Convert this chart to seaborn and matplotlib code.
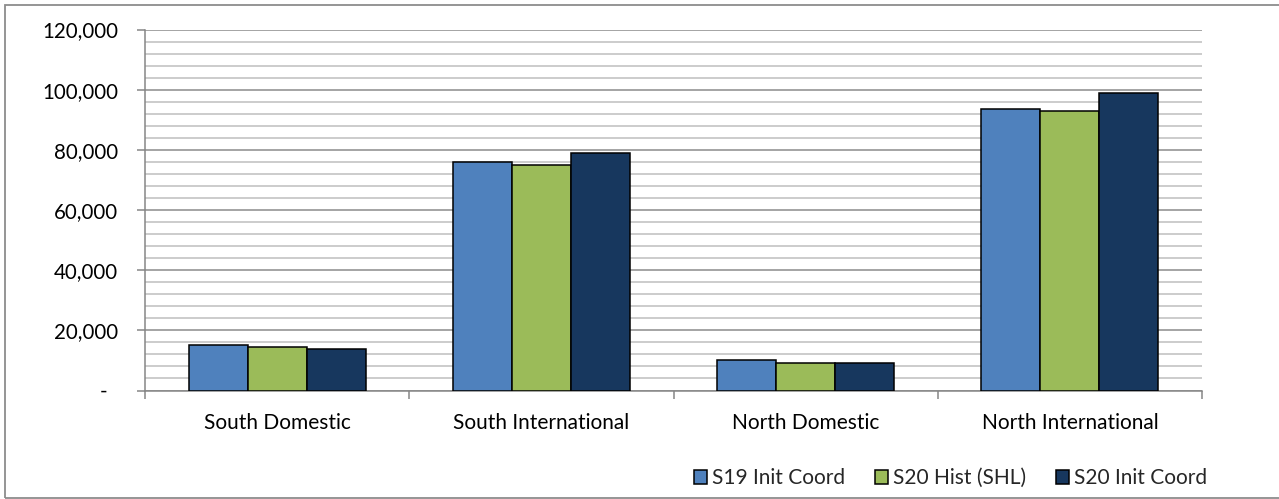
import matplotlib
matplotlib.use("Agg")
import matplotlib.pyplot as plt
import matplotlib.patches as mpatches
import seaborn as sns
import pandas as pd
from matplotlib.ticker import MultipleLocator, FuncFormatter, FixedLocator

categories = ["South Domestic", "South International", "North Domestic", "North International"]
series_names = ["S19 Init Coord", "S20 Hist (SHL)", "S20 Init Coord"]
s19_init = [15200, 75900, 10100, 93600]
s20_hist = [14300, 75100, 9200, 93000]
s20_init = [13700, 79000, 9000, 98800]
colors = ["#4F81BD", "#9BBB59", "#17375E"]

rows = []
for name, vals in zip(series_names, [s19_init, s20_hist, s20_init]):
    for c, v in zip(categories, vals):
        rows.append({"Category": c, "Series": name, "Value": v})
df = pd.DataFrame(rows)

sns.set_theme(style="white")
plt.rcParams["font.family"] = ["Lato", "DejaVu Sans"]
plt.rcParams["font.size"] = 15

W, H = 1279, 499
fig = plt.figure(figsize=(W / 100, H / 100), dpi=100)
ax = fig.add_axes([145 / W, 1 - 390.5 / H, (1202 - 145) / W, (390.5 - 29.5) / H])

sns.barplot(data=df, x="Category", y="Value", hue="Series", order=categories,
            hue_order=series_names, palette=colors, width=0.67, gap=0,
            edgecolor="black", linewidth=1.1, saturation=1, ax=ax, zorder=3)

ax.set_ylim(0, 120000)
ax.set_xlim(-0.5, 3.5)
ax.yaxis.set_major_locator(MultipleLocator(20000))
ax.yaxis.set_minor_locator(MultipleLocator(4000))
ax.yaxis.set_major_formatter(FuncFormatter(lambda v, p: "-  " if v == 0 else f"{int(v):,}"))
ax.grid(which="minor", axis="y", color="#C4C4C4", linewidth=1.2, zorder=0)
ax.grid(which="major", axis="y", color="#959595", linewidth=1.2, zorder=0)
ax.set_axisbelow(True)

ax.xaxis.set_minor_locator(FixedLocator([-0.5, 0.5, 1.5, 2.5, 3.5]))
ax.tick_params(axis="x", which="major", length=0, pad=16, labelsize=15, colors="black")
ax.tick_params(axis="x", which="minor", length=5.5, width=1.1, color="#868686", direction="out", bottom=True)
ax.tick_params(axis="y", which="major", length=5.5, width=1.1, color="#868686", direction="out",
               left=True, pad=14, labelsize=14.8, labelcolor="black")
ax.tick_params(axis="y", which="minor", length=0)

for s in ["top", "right"]:
    ax.spines[s].set_visible(False)
for s in ["left", "bottom"]:
    ax.spines[s].set_color("#868686")
    ax.spines[s].set_linewidth(1.1)

ax.set_xlabel("")
ax.set_ylabel("")

handles, labels = ax.get_legend_handles_labels()
if ax.get_legend() is not None:
    ax.get_legend().remove()
fig.legend(handles, labels, loc="center", bbox_to_anchor=((694 + 1207) / 2 / W, 1 - 478 / H),
           ncol=3, frameon=False, fontsize=15, handlelength=0.64, handleheight=0.64,
           handletextpad=0.26, columnspacing=1.4, borderpad=0)

# outer chart frame
frame = mpatches.Rectangle((4.5 / W, 1.5 / H), 1.2, (H - 4.7 - 1.5) / H, transform=fig.transFigure,
                           fill=False, edgecolor="#8C8C8C", linewidth=1.3, zorder=0)
fig.patches.append(frame)

fig.savefig("out.png", dpi=100)
